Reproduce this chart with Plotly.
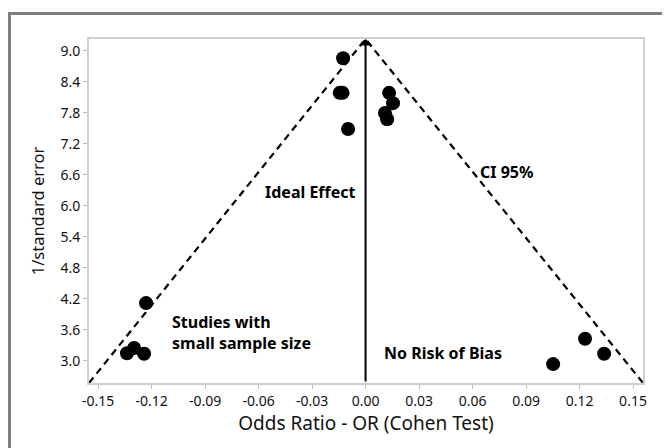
import plotly.graph_objects as go

# Data
odds_ratio = [-0.0126, -0.0145, -0.0129, -0.0098, 0.0132, 0.0154, 0.0109, 0.0121,
              -0.1231, -0.1338, -0.1298, -0.1242, 0.1231, 0.1338, 0.1052]
inv_se = [8.86, 8.19, 8.19, 7.49, 8.19, 7.99, 7.80, 7.68,
          4.12, 3.15, 3.25, 3.14, 3.43, 3.14, 2.94]

x_ticks = [-0.15, -0.12, -0.09, -0.06, -0.03, 0.0, 0.03, 0.06, 0.09, 0.12, 0.15]
x_tick_labels = ["-0.15", "-0.12", "-0.09", "-0.06", "-0.03", "0.00",
                 "0.03", "0.06", "0.09", "0.12", "0.15"]
y_ticks = [3.0, 3.6, 4.2, 4.8, 5.4, 6.0, 6.6, 7.2, 7.8, 8.4, 9.0]
y_tick_labels = ["3.0", "3.6", "4.2", "4.8", "5.4", "6.0", "6.6", "7.2", "7.8", "8.4", "9.0"]

x_range = [-0.1551, 0.1556]
y_range = [2.574, 9.232]
apex = [0.0, 9.232]
ci_left = [-0.1551, 2.574]
ci_right = [0.1556, 2.574]

fig = go.Figure()

# CI 95% funnel (dashed)
fig.add_trace(go.Scatter(
    x=[ci_left[0], apex[0], ci_right[0]], y=[ci_left[1], apex[1], ci_right[1]],
    mode="lines", line=dict(color="black", width=2.2, dash="7px,5px"),
    hoverinfo="skip", showlegend=False, cliponaxis=False))

# studies
fig.add_trace(go.Scatter(
    x=odds_ratio, y=inv_se, mode="markers",
    marker=dict(color="black", size=14), showlegend=False))

font_family = "Noto Sans, Open Sans, sans-serif"
ann_font = dict(size=16, color="black", family=font_family)

annotations = [
    # Ideal effect vertical arrow
    dict(x=apex[0], y=apex[1], ax=0.0, ay=y_range[0], xref="x", yref="y",
         axref="x", ayref="y", showarrow=True, arrowhead=1, arrowsize=1.1,
         arrowwidth=2, arrowcolor="black", text=""),
    dict(x=-0.0306, y=6.27, text="<b>Ideal Effect</b>", showarrow=False, font=ann_font),
    dict(x=0.0788, y=6.66, text="<b>CI 95%</b>", showarrow=False, font=ann_font),
    dict(x=-0.1098, y=3.56, text="<b>Studies with<br>small sample size</b>", showarrow=False,
         xanchor="left", align="left", font=ann_font),
    dict(x=0.0092, y=3.155, text="<b>No Risk of Bias</b>", showarrow=False,
         xanchor="left", font=ann_font),
]

# page has an 8px body margin; plot area spans 89..643 x 39..383 on screen
shapes = [
    dict(type="rect", xref="paper", yref="paper",
         x0=(9.5 - 89) / 554, x1=(700 - 89) / 554,
         y0=(383 - 480) / 344, y1=1 + (39 - 13.5) / 344,
         line=dict(color="#7f7f7f", width=3), layer="below"),
]

fig.update_layout(
    width=670, height=448,
    margin=dict(l=81, r=35, t=31, b=73),
    paper_bgcolor="white", plot_bgcolor="white",
    font=dict(family=font_family, color="#1a1a1a"),
    annotations=annotations, shapes=shapes,
    xaxis=dict(range=x_range, tickvals=x_ticks, ticktext=x_tick_labels,
               showgrid=False, zeroline=False, showline=True, mirror=True,
               linecolor="#cfcfcf", linewidth=2, ticks="outside", ticklen=4,
               tickcolor="#bdbdbd", tickfont=dict(size=14, color="#111111"),
               title=dict(text="Odds Ratio - OR (Cohen Test)", standoff=4,
                          font=dict(size=19, color="#111111"))),
    yaxis=dict(range=y_range, tickvals=y_ticks, ticktext=y_tick_labels,
               showgrid=False, zeroline=False, showline=True, mirror=True,
               linecolor="#cfcfcf", linewidth=2, ticks="outside", ticklen=4,
               tickcolor="#bdbdbd", tickfont=dict(size=14, color="#111111"),
               title=dict(text="1/standard error", standoff=12,
                          font=dict(size=16.5, color="#111111"))),
)

fig.write_html("out.html")
